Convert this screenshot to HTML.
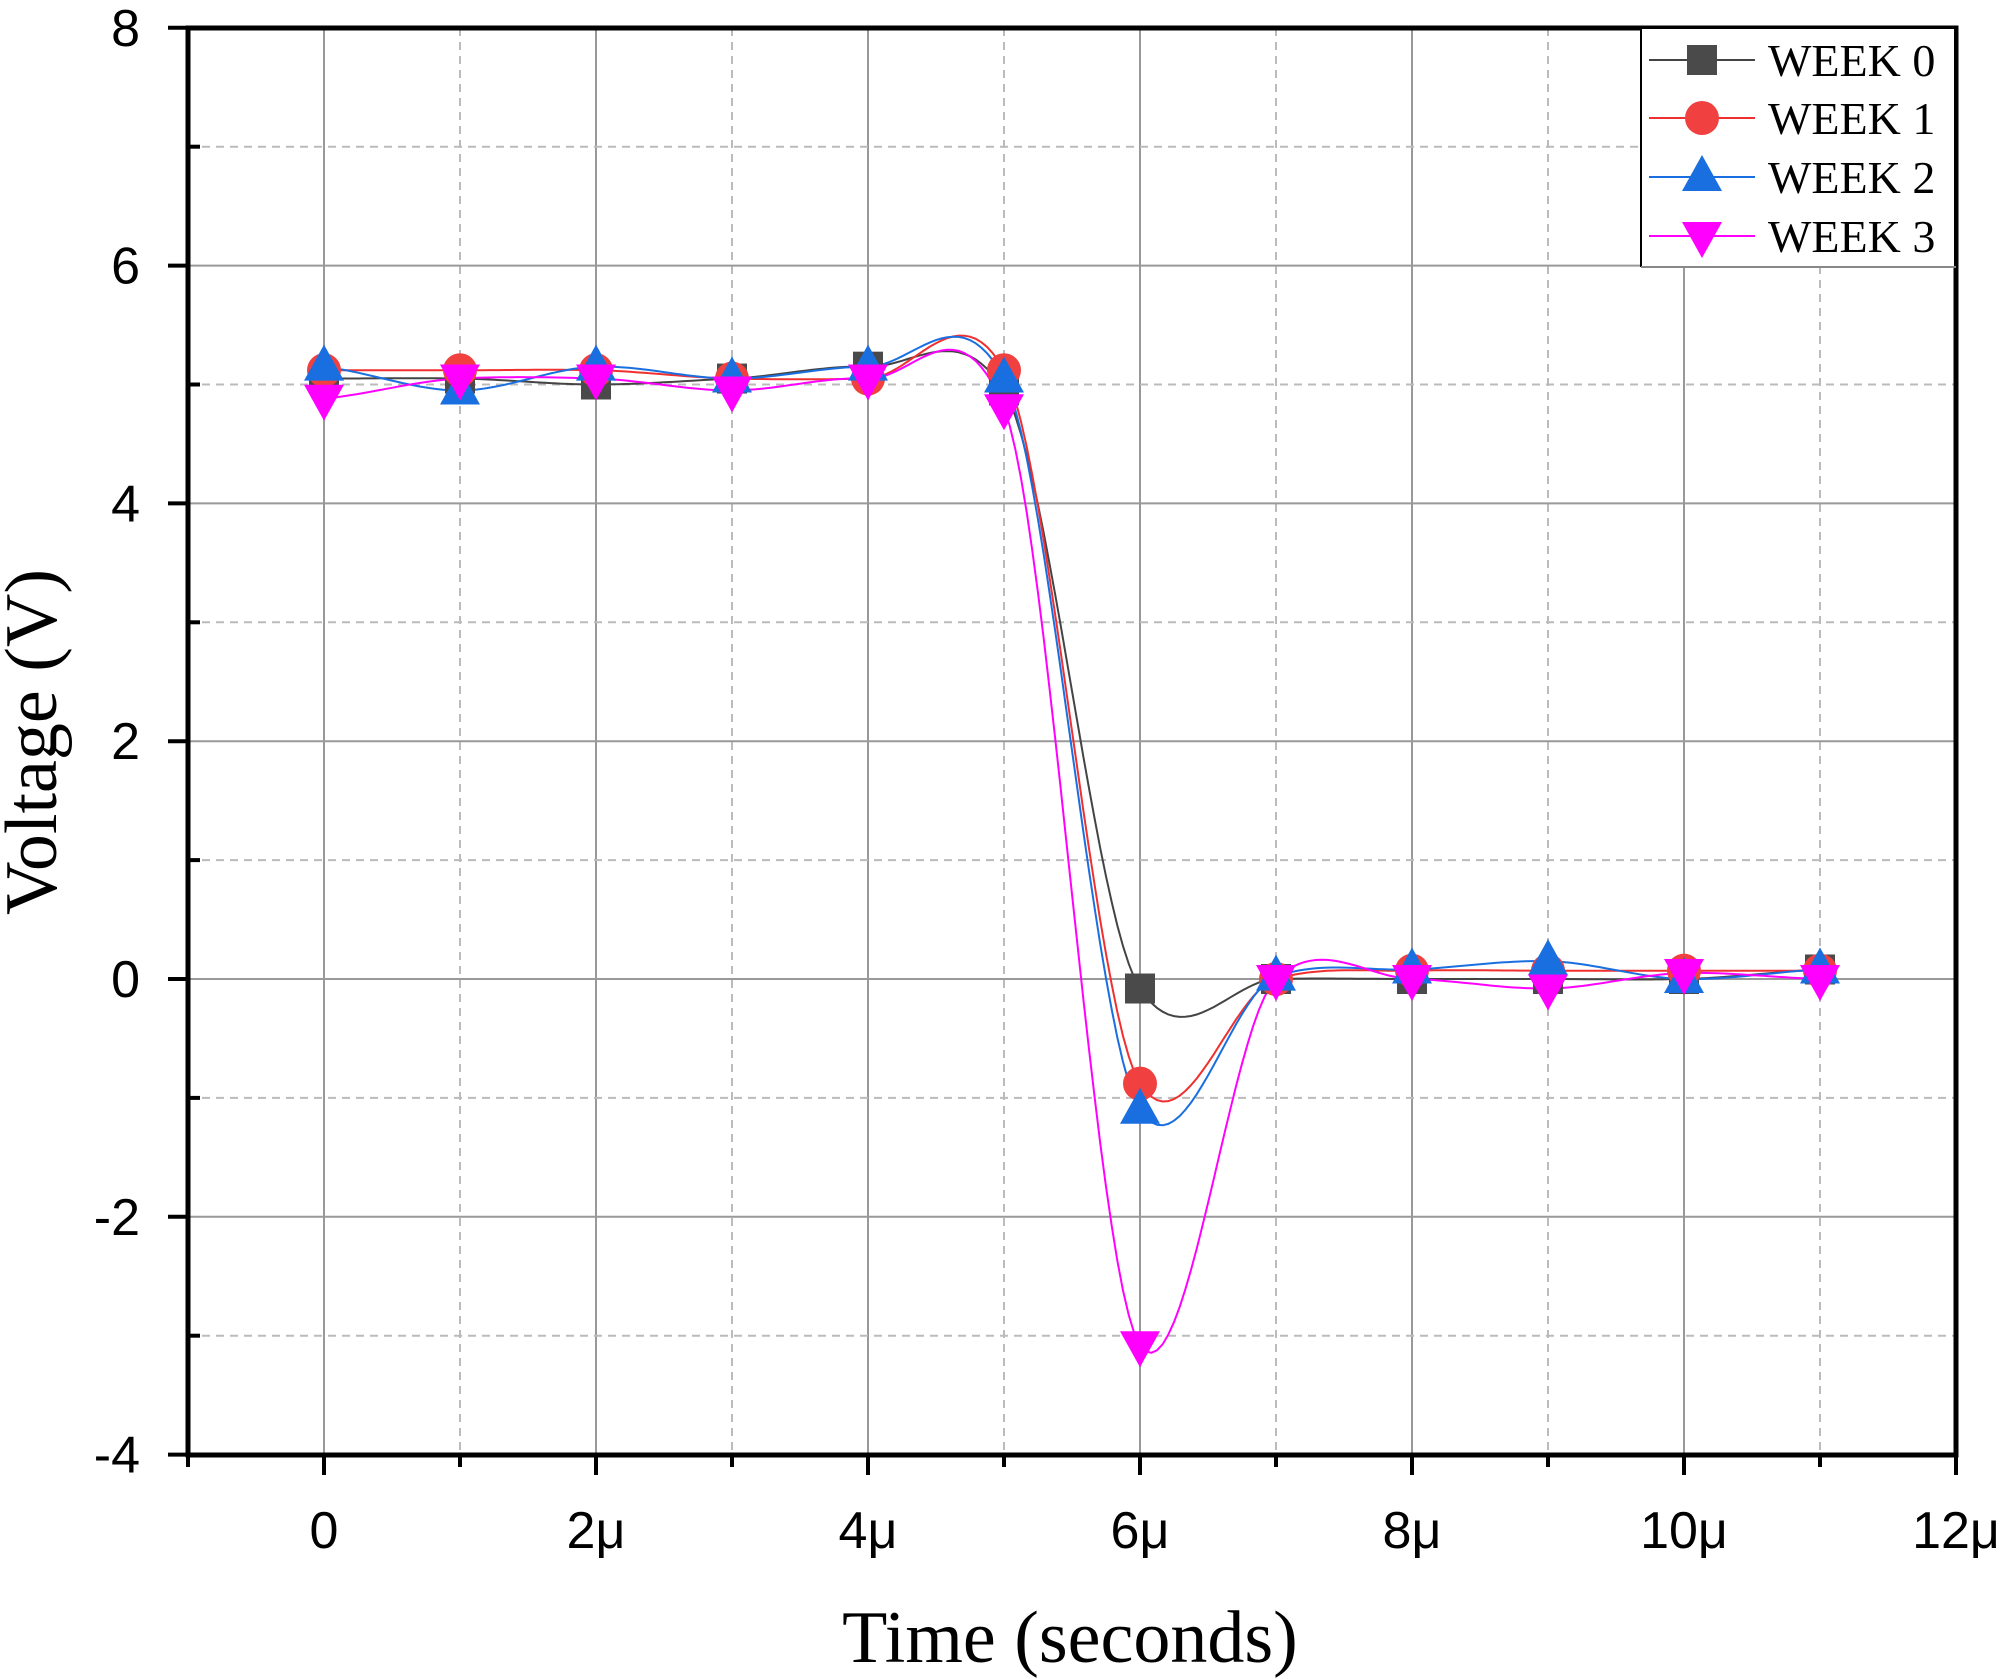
<!DOCTYPE html>
<html><head><meta charset="utf-8"><style>
html,body{margin:0;padding:0;background:#fff;}
svg{display:block;}
</style></head><body>
<svg id="s" width="2008" height="1679" xmlns="http://www.w3.org/2000/svg">
<g id="grid"></g>
<g id="series"></g>
<rect x="188" y="28" width="1768" height="1427" fill="none" stroke="#000" stroke-width="5"/>
<g id="ticks" stroke="#000" stroke-width="4"></g>
<g id="labels" font-family="Liberation Sans, sans-serif" font-size="52" fill="#000"></g>
<text x="1070" y="1662" font-family="Liberation Serif, serif" font-size="74" text-anchor="middle">Time (seconds)</text>
<text transform="translate(56,742) rotate(-90)" font-family="Liberation Serif, serif" font-size="74" text-anchor="middle">Voltage (V)</text>
<g id="legend">
<rect x="1641" y="29" width="313" height="238" fill="#fff" stroke="none"/>
<line x1="1641" y1="29" x2="1641" y2="267" stroke="#000" stroke-width="2"/>
<line x1="1641" y1="267" x2="1956" y2="267" stroke="#888" stroke-width="2"/>
</g>
</svg>
<script>
var X0=324,XS=136,Y0=979,YS=118.9;
function px(x){return X0+x*XS;} function py(y){return Y0-y*YS;}
var ns="http://www.w3.org/2000/svg";
function el(p,t,a){var e=document.createElementNS(ns,t);for(var k in a)e.setAttribute(k,a[k]);document.getElementById(p).appendChild(e);return e;}
for(var i=0;i<=11;i++){el("grid","line",{x1:px(i),y1:28,x2:px(i),y2:1455,stroke:i%2?"#bbb":"#999","stroke-width":2,"stroke-dasharray":i%2?"8,6":"none"});}
for(var j=-3;j<=7;j++){el("grid","line",{x1:188,y1:py(j),x2:1956,y2:py(j),stroke:(j%2)?"#bbb":"#999","stroke-width":2,"stroke-dasharray":(j%2)?"8,6":"none"});}
for(var i=-1;i<=12;i++){var l=(i%2==0)?20:12;el("ticks","line",{x1:px(i),y1:1455,x2:px(i),y2:1455+l});}
for(var j=-4;j<=8;j++){if(j%2==0)el("ticks","line",{x1:168,y1:py(j),x2:188,y2:py(j)});else el("ticks","line",{x1:188,y1:py(j),x2:200,y2:py(j)});}
var xl=["0","2μ","4μ","6μ","8μ","10μ","12μ"];
for(var i=0;i<7;i++){var t=el("labels","text",{x:px(i*2),y:1548,"text-anchor":"middle"});t.textContent=xl[i];}
for(var j=-4;j<=8;j+=2){var t=el("labels","text",{x:140,y:py(j)+18,"text-anchor":"end"});t.textContent=String(j);}
function spline(ys){var n=ys.length,m=[];
 for(var i=0;i<n;i++){var a=ys[Math.max(0,i-1)],b=ys[Math.min(n-1,i+1)];var h=(i==0||i==n-1)?1:2;m[i]=0.7*(b-a)/h;}
 var s="M"+px(0)+","+py(ys[0]);
 for(var i=0;i<n-1;i++){for(var k=1;k<=24;k++){var t=k/24,t2=t*t,t3=t2*t;
  var y=(2*t3-3*t2+1)*ys[i]+(t3-2*t2+t)*m[i]+(-2*t3+3*t2)*ys[i+1]+(t3-t2)*m[i+1];
  s+=" L"+px(i+t).toFixed(1)+","+py(y).toFixed(1);}}
 return s;}
var S=[
{c:"#444",mc:"#4a4a4a",m:"sq",d:[5.05,5.05,5.0,5.05,5.15,4.95,-0.08,0,0,0,0,0.08]},
{c:"#f03030",mc:"#f04040",m:"ci",d:[5.12,5.12,5.12,5.05,5.05,5.12,-0.88,0,0.07,0.07,0.07,0.07]},
{c:"#1a6fe0",mc:"#1a6fe0",m:"up",d:[5.15,4.95,5.15,5.05,5.15,5.05,-1.1,0.02,0.08,0.15,0,0.08]},
{c:"#ff00ff",mc:"#ff00ff",m:"dn",d:[4.88,5.05,5.05,4.95,5.05,4.8,-3.08,0,0,-0.08,0.05,0]}];
function mark(g,type,x,y,col){
 if(type=="sq")el(g,"rect",{x:x-15,y:y-15,width:30,height:30,fill:col});
 else if(type=="ci")el(g,"circle",{cx:x,cy:y,r:17,fill:col});
 else if(type=="up")el(g,"polygon",{points:(x-20)+","+(y+14)+" "+(x+20)+","+(y+14)+" "+x+","+(y-22),fill:col});
 else el(g,"polygon",{points:(x-20)+","+(y-14)+" "+(x+20)+","+(y-14)+" "+x+","+(y+22),fill:col});}
S.forEach(function(s){el("series","path",{d:spline(s.d),fill:"none",stroke:s.c,"stroke-width":2});});
S.forEach(function(s){s.d.forEach(function(v,i){mark("series",s.m,px(i),py(v),s.mc);});});
var names=["WEEK 0","WEEK 1","WEEK 2","WEEK 3"],ry=[60,118,177,236];
S.forEach(function(s,i){el("legend","line",{x1:1649,y1:ry[i],x2:1755,y2:ry[i],stroke:s.c,"stroke-width":2});mark("legend",s.m,1702,ry[i],s.mc);
 var t=el("legend","text",{x:1768,y:ry[i]+16,"font-family":"Liberation Serif, serif","font-size":"46"});t.textContent=names[i];});
</script>
</body></html>
